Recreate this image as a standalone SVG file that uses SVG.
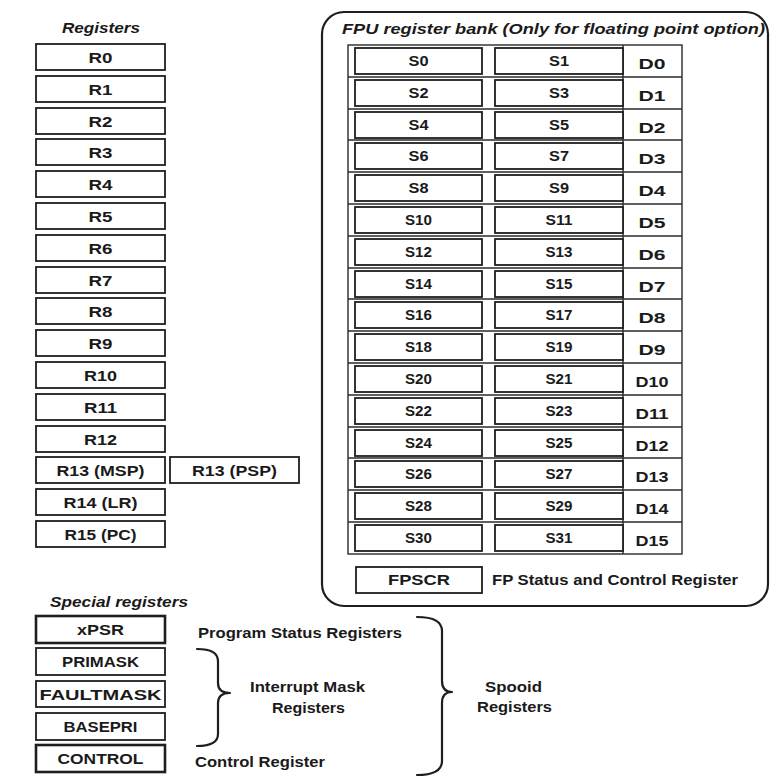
<svg xmlns="http://www.w3.org/2000/svg" width="775" height="783" viewBox="0 0 775 783">
<style>
.bg{fill:#ffffff}
.box{fill:#ffffff;stroke:#1e1e1e;stroke-width:1.8}
.boxb{fill:#ffffff;stroke:#1e1e1e;stroke-width:2.6}
.grid{fill:none;stroke:#2a2a2a;stroke-width:1.4}
.frame{fill:none;stroke:#1e1e1e;stroke-width:2.2}
.brace{fill:none;stroke:#1e1e1e;stroke-width:2.2;stroke-linecap:round;stroke-linejoin:round}
text{font-family:"Liberation Sans",Arial,Helvetica,sans-serif;font-weight:bold;font-size:15px;fill:#1a1a1a}
.c{text-anchor:middle}
.ti{font-style:italic}
</style>
<rect class="bg" x="0" y="0" width="775" height="783"/>

<!-- General registers -->
<g id="registers">
<text class="c ti" x="101" y="33" textLength="78" lengthAdjust="spacingAndGlyphs">Registers</text>
<g id="R0"><rect class="box" x="36" y="44" width="129" height="26"/><text class="c" x="100.5" y="63" textLength="24" lengthAdjust="spacingAndGlyphs">R0</text></g>
<g id="R1"><rect class="box" x="36" y="76" width="129" height="26"/><text class="c" x="100.5" y="95" textLength="24" lengthAdjust="spacingAndGlyphs">R1</text></g>
<g id="R2"><rect class="box" x="36" y="108" width="129" height="26"/><text class="c" x="100.5" y="127" textLength="24" lengthAdjust="spacingAndGlyphs">R2</text></g>
<g id="R3"><rect class="box" x="36" y="139" width="129" height="26"/><text class="c" x="100.5" y="158" textLength="24" lengthAdjust="spacingAndGlyphs">R3</text></g>
<g id="R4"><rect class="box" x="36" y="171" width="129" height="26"/><text class="c" x="100.5" y="190" textLength="24" lengthAdjust="spacingAndGlyphs">R4</text></g>
<g id="R5"><rect class="box" x="36" y="203" width="129" height="26"/><text class="c" x="100.5" y="222" textLength="24" lengthAdjust="spacingAndGlyphs">R5</text></g>
<g id="R6"><rect class="box" x="36" y="235" width="129" height="26"/><text class="c" x="100.5" y="254" textLength="24" lengthAdjust="spacingAndGlyphs">R6</text></g>
<g id="R7"><rect class="box" x="36" y="267" width="129" height="26"/><text class="c" x="100.5" y="286" textLength="24" lengthAdjust="spacingAndGlyphs">R7</text></g>
<g id="R8"><rect class="box" x="36" y="298" width="129" height="26"/><text class="c" x="100.5" y="317" textLength="24" lengthAdjust="spacingAndGlyphs">R8</text></g>
<g id="R9"><rect class="box" x="36" y="330" width="129" height="26"/><text class="c" x="100.5" y="349" textLength="24" lengthAdjust="spacingAndGlyphs">R9</text></g>
<g id="R10"><rect class="box" x="36" y="362" width="129" height="26"/><text class="c" x="100.5" y="381" textLength="33" lengthAdjust="spacingAndGlyphs">R10</text></g>
<g id="R11"><rect class="box" x="36" y="394" width="129" height="26"/><text class="c" x="100.5" y="413" textLength="33" lengthAdjust="spacingAndGlyphs">R11</text></g>
<g id="R12"><rect class="box" x="36" y="426" width="129" height="26"/><text class="c" x="100.5" y="445" textLength="33" lengthAdjust="spacingAndGlyphs">R12</text></g>
<g id="R13MSP"><rect class="box" x="36" y="457" width="129" height="26"/><text class="c" x="100.5" y="476" textLength="88" lengthAdjust="spacingAndGlyphs">R13 (MSP)</text></g>
<g id="R13PSP"><rect class="box" x="170" y="457" width="129" height="26"/><text class="c" x="234.5" y="476" textLength="85" lengthAdjust="spacingAndGlyphs">R13 (PSP)</text></g>
<g id="R14"><rect class="box" x="36" y="489" width="129" height="26"/><text class="c" x="100.5" y="508" textLength="74" lengthAdjust="spacingAndGlyphs">R14 (LR)</text></g>
<g id="R15"><rect class="box" x="36" y="521" width="129" height="26"/><text class="c" x="100.5" y="540" textLength="72" lengthAdjust="spacingAndGlyphs">R15 (PC)</text></g>
</g>

<!-- FPU register bank -->
<g id="fpu">
<rect class="frame" x="322" y="12" width="446" height="594" rx="22" ry="22"/>
<text class="ti" x="342" y="34" textLength="423" lengthAdjust="spacingAndGlyphs">FPU register bank (Only for floating point option)</text>
<rect class="grid" x="348" y="45" width="334" height="509"/>
<line class="grid" x1="623" y1="45" x2="623" y2="554"/>
<g class="grid">
<line x1="348" y1="77" x2="682" y2="77"/>
<line x1="348" y1="109" x2="682" y2="109"/>
<line x1="348" y1="140" x2="682" y2="140"/>
<line x1="348" y1="172" x2="682" y2="172"/>
<line x1="348" y1="204" x2="682" y2="204"/>
<line x1="348" y1="236" x2="682" y2="236"/>
<line x1="348" y1="268" x2="682" y2="268"/>
<line x1="348" y1="299" x2="682" y2="299"/>
<line x1="348" y1="331" x2="682" y2="331"/>
<line x1="348" y1="363" x2="682" y2="363"/>
<line x1="348" y1="395" x2="682" y2="395"/>
<line x1="348" y1="427" x2="682" y2="427"/>
<line x1="348" y1="458" x2="682" y2="458"/>
<line x1="348" y1="490" x2="682" y2="490"/>
<line x1="348" y1="522" x2="682" y2="522"/>
</g>
<g id="row0"><rect class="box" x="355" y="48" width="127" height="26"/><rect class="box" x="495" y="48" width="128" height="26"/><text class="c" x="418.5" y="66" textLength="20" lengthAdjust="spacingAndGlyphs">S0</text><text class="c" x="559" y="66" textLength="20" lengthAdjust="spacingAndGlyphs">S1</text><text class="c" x="652" y="69" textLength="27" lengthAdjust="spacingAndGlyphs">D0</text></g>
<g id="row1"><rect class="box" x="355" y="80" width="127" height="26"/><rect class="box" x="495" y="80" width="128" height="26"/><text class="c" x="418.5" y="98" textLength="20" lengthAdjust="spacingAndGlyphs">S2</text><text class="c" x="559" y="98" textLength="20" lengthAdjust="spacingAndGlyphs">S3</text><text class="c" x="652" y="101" textLength="27" lengthAdjust="spacingAndGlyphs">D1</text></g>
<g id="row2"><rect class="box" x="355" y="112" width="127" height="26"/><rect class="box" x="495" y="112" width="128" height="26"/><text class="c" x="418.5" y="130" textLength="20" lengthAdjust="spacingAndGlyphs">S4</text><text class="c" x="559" y="130" textLength="20" lengthAdjust="spacingAndGlyphs">S5</text><text class="c" x="652" y="133" textLength="27" lengthAdjust="spacingAndGlyphs">D2</text></g>
<g id="row3"><rect class="box" x="355" y="143" width="127" height="26"/><rect class="box" x="495" y="143" width="128" height="26"/><text class="c" x="418.5" y="161" textLength="20" lengthAdjust="spacingAndGlyphs">S6</text><text class="c" x="559" y="161" textLength="20" lengthAdjust="spacingAndGlyphs">S7</text><text class="c" x="652" y="164" textLength="27" lengthAdjust="spacingAndGlyphs">D3</text></g>
<g id="row4"><rect class="box" x="355" y="175" width="127" height="26"/><rect class="box" x="495" y="175" width="128" height="26"/><text class="c" x="418.5" y="193" textLength="20" lengthAdjust="spacingAndGlyphs">S8</text><text class="c" x="559" y="193" textLength="20" lengthAdjust="spacingAndGlyphs">S9</text><text class="c" x="652" y="196" textLength="27" lengthAdjust="spacingAndGlyphs">D4</text></g>
<g id="row5"><rect class="box" x="355" y="207" width="127" height="26"/><rect class="box" x="495" y="207" width="128" height="26"/><text class="c" x="418.5" y="225" textLength="27" lengthAdjust="spacingAndGlyphs">S10</text><text class="c" x="559" y="225" textLength="27" lengthAdjust="spacingAndGlyphs">S11</text><text class="c" x="652" y="228" textLength="27" lengthAdjust="spacingAndGlyphs">D5</text></g>
<g id="row6"><rect class="box" x="355" y="239" width="127" height="26"/><rect class="box" x="495" y="239" width="128" height="26"/><text class="c" x="418.5" y="257" textLength="27" lengthAdjust="spacingAndGlyphs">S12</text><text class="c" x="559" y="257" textLength="27" lengthAdjust="spacingAndGlyphs">S13</text><text class="c" x="652" y="260" textLength="27" lengthAdjust="spacingAndGlyphs">D6</text></g>
<g id="row7"><rect class="box" x="355" y="271" width="127" height="26"/><rect class="box" x="495" y="271" width="128" height="26"/><text class="c" x="418.5" y="289" textLength="27" lengthAdjust="spacingAndGlyphs">S14</text><text class="c" x="559" y="289" textLength="27" lengthAdjust="spacingAndGlyphs">S15</text><text class="c" x="652" y="292" textLength="27" lengthAdjust="spacingAndGlyphs">D7</text></g>
<g id="row8"><rect class="box" x="355" y="302" width="127" height="26"/><rect class="box" x="495" y="302" width="128" height="26"/><text class="c" x="418.5" y="320" textLength="27" lengthAdjust="spacingAndGlyphs">S16</text><text class="c" x="559" y="320" textLength="27" lengthAdjust="spacingAndGlyphs">S17</text><text class="c" x="652" y="323" textLength="27" lengthAdjust="spacingAndGlyphs">D8</text></g>
<g id="row9"><rect class="box" x="355" y="334" width="127" height="26"/><rect class="box" x="495" y="334" width="128" height="26"/><text class="c" x="418.5" y="352" textLength="27" lengthAdjust="spacingAndGlyphs">S18</text><text class="c" x="559" y="352" textLength="27" lengthAdjust="spacingAndGlyphs">S19</text><text class="c" x="652" y="355" textLength="27" lengthAdjust="spacingAndGlyphs">D9</text></g>
<g id="row10"><rect class="box" x="355" y="366" width="127" height="26"/><rect class="box" x="495" y="366" width="128" height="26"/><text class="c" x="418.5" y="384" textLength="27" lengthAdjust="spacingAndGlyphs">S20</text><text class="c" x="559" y="384" textLength="27" lengthAdjust="spacingAndGlyphs">S21</text><text class="c" x="652" y="387" textLength="33" lengthAdjust="spacingAndGlyphs">D10</text></g>
<g id="row11"><rect class="box" x="355" y="398" width="127" height="26"/><rect class="box" x="495" y="398" width="128" height="26"/><text class="c" x="418.5" y="416" textLength="27" lengthAdjust="spacingAndGlyphs">S22</text><text class="c" x="559" y="416" textLength="27" lengthAdjust="spacingAndGlyphs">S23</text><text class="c" x="652" y="419" textLength="33" lengthAdjust="spacingAndGlyphs">D11</text></g>
<g id="row12"><rect class="box" x="355" y="430" width="127" height="26"/><rect class="box" x="495" y="430" width="128" height="26"/><text class="c" x="418.5" y="448" textLength="27" lengthAdjust="spacingAndGlyphs">S24</text><text class="c" x="559" y="448" textLength="27" lengthAdjust="spacingAndGlyphs">S25</text><text class="c" x="652" y="451" textLength="33" lengthAdjust="spacingAndGlyphs">D12</text></g>
<g id="row13"><rect class="box" x="355" y="461" width="127" height="26"/><rect class="box" x="495" y="461" width="128" height="26"/><text class="c" x="418.5" y="479" textLength="27" lengthAdjust="spacingAndGlyphs">S26</text><text class="c" x="559" y="479" textLength="27" lengthAdjust="spacingAndGlyphs">S27</text><text class="c" x="652" y="482" textLength="33" lengthAdjust="spacingAndGlyphs">D13</text></g>
<g id="row14"><rect class="box" x="355" y="493" width="127" height="26"/><rect class="box" x="495" y="493" width="128" height="26"/><text class="c" x="418.5" y="511" textLength="27" lengthAdjust="spacingAndGlyphs">S28</text><text class="c" x="559" y="511" textLength="27" lengthAdjust="spacingAndGlyphs">S29</text><text class="c" x="652" y="514" textLength="33" lengthAdjust="spacingAndGlyphs">D14</text></g>
<g id="row15"><rect class="box" x="355" y="525" width="127" height="26"/><rect class="box" x="495" y="525" width="128" height="26"/><text class="c" x="418.5" y="543" textLength="27" lengthAdjust="spacingAndGlyphs">S30</text><text class="c" x="559" y="543" textLength="27" lengthAdjust="spacingAndGlyphs">S31</text><text class="c" x="652" y="546" textLength="33" lengthAdjust="spacingAndGlyphs">D15</text></g>
<g id="FPSCR"><rect class="box" x="356" y="567" width="126" height="26"/><text class="c" x="419" y="585" textLength="62" lengthAdjust="spacingAndGlyphs">FPSCR</text></g>
<text x="492" y="585" textLength="246" lengthAdjust="spacingAndGlyphs">FP Status and Control Register</text>
</g>

<!-- Special registers -->
<g id="special">
<text class="ti" x="50" y="607" textLength="138" lengthAdjust="spacingAndGlyphs">Special registers</text>
<g id="xPSR"><rect class="boxb" x="36" y="616" width="129" height="27"/><text class="c" x="100.5" y="635" textLength="47" lengthAdjust="spacingAndGlyphs">xPSR</text></g>
<g id="PRIMASK"><rect class="box" x="36" y="648" width="129" height="27"/><text class="c" x="100.5" y="667" textLength="77" lengthAdjust="spacingAndGlyphs">PRIMASK</text></g>
<g id="FAULTMASK"><rect class="box" x="36" y="681" width="129" height="26"/><text class="c" x="100.5" y="700" textLength="122" lengthAdjust="spacingAndGlyphs">FAULTMASK</text></g>
<g id="BASEPRI"><rect class="box" x="36" y="713" width="129" height="27"/><text class="c" x="100.5" y="732" textLength="74" lengthAdjust="spacingAndGlyphs">BASEPRI</text></g>
<g id="CONTROL"><rect class="boxb" x="36" y="745" width="129" height="27"/><text class="c" x="100.5" y="764" textLength="86" lengthAdjust="spacingAndGlyphs">CONTROL</text></g>
</g>

<!-- Annotations -->
<g id="labels">
<text x="198" y="638" textLength="204" lengthAdjust="spacingAndGlyphs">Program Status Registers</text>
<text class="c" x="307.5" y="692" textLength="115" lengthAdjust="spacingAndGlyphs">Interrupt Mask</text>
<text class="c" x="308.5" y="713" textLength="73" lengthAdjust="spacingAndGlyphs">Registers</text>
<text x="195" y="767" textLength="130" lengthAdjust="spacingAndGlyphs">Control Register</text>
<text class="c" x="513.5" y="692" textLength="57" lengthAdjust="spacingAndGlyphs">Spooid</text>
<text class="c" x="514.5" y="712" textLength="75" lengthAdjust="spacingAndGlyphs">Registers</text>
</g>

<g id="connectors">
<path class="brace" d="M197,649 Q218,649 218,661 L218,683 Q218,693 230,693 Q218,693 218,703 L218,734 Q218,746 197,746"/>
<path class="brace" d="M417,617 Q442,617 442,631 L442,681 Q442,692 452,692 Q442,692 442,703 L442,761 Q442,775 417,775"/>
</g>
</svg>
